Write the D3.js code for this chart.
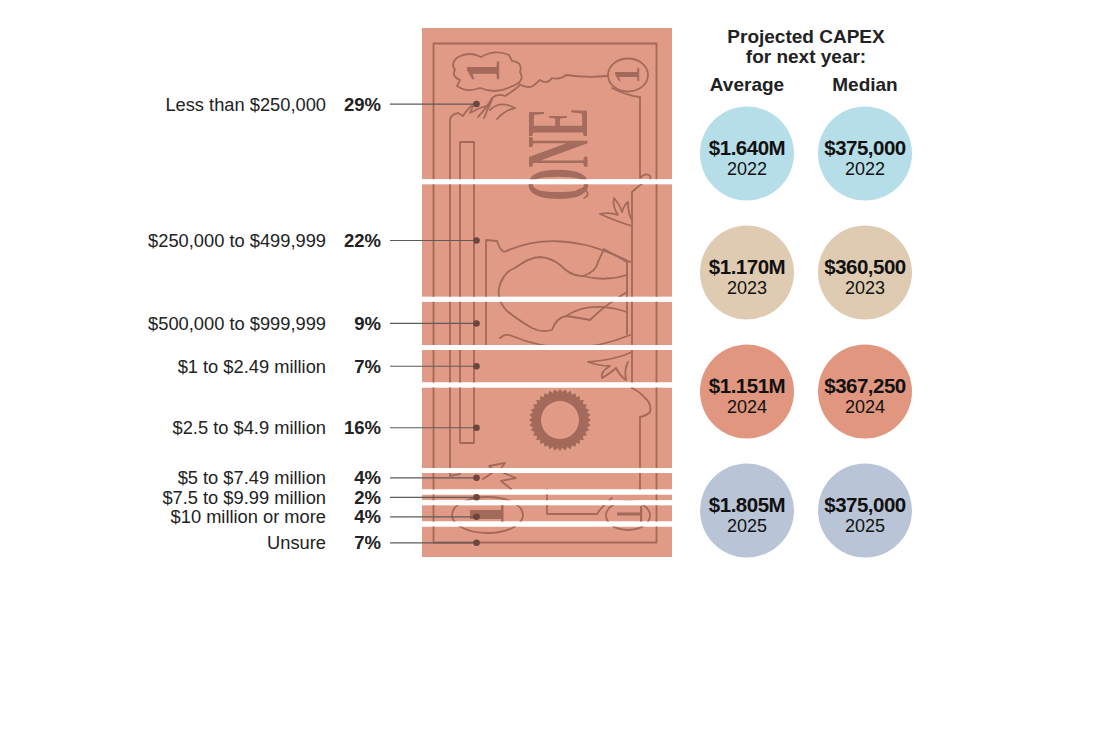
<!DOCTYPE html>
<html>
<head>
<meta charset="utf-8">
<script src="https://cdn.jsdelivr.net/npm/d3@7/dist/d3.min.js"></script>
<style>
  html, body { margin: 0; padding: 0; background: #ffffff; }
  svg { display: block; font-family: "Liberation Sans", Arial, Helvetica, sans-serif; }
</style>
</head>
<body>
<svg id="chart" width="1100" height="733"></svg>
<script>
// ---------------- DATA ----------------
const categories = [
  "Less than $250,000",
  "$250,000 to $499,999",
  "$500,000 to $999,999",
  "$1 to $2.49 million",
  "$2.5 to $4.9 million",
  "$5 to $7.49 million",
  "$7.5 to $9.99 million",
  "$10 million or more",
  "Unsure"
];
const shares = [29, 22, 9, 7, 16, 4, 2, 4, 7];           // percent of respondents

const years = ["2022", "2023", "2024", "2025"];
const measures = ["Average", "Median"];
const averageCapex = [1.640, 1.170, 1.151, 1.805];          // $ millions
const medianCapex = [375000, 360500, 367250, 375000];        // $
const titleLines = ["Projected CAPEX", "for next year:"];

// ---------------- STYLE / LAYOUT ----------------
const yearColors = ["#b6dee9", "#dfcbb2", "#e0967f", "#b9c4d7"];
const billFill = "#e09a86";
const ink = "#a3695a";
const textColor = "#222222";
const bill = { x0: 422, x1: 672, y0: 28, y1: 557 };
const gap = 5;

const svg = d3.select("#chart");

// scale: percent (cumulative) -> vertical position on the bill
const y = d3.scaleLinear().domain([0, 100]).range([26.5, 561.5]);

const cum = Array.from(d3.cumsum(shares));
const segs = shares.map((s, i) => ({
  cat: categories[i], share: s, start: cum[i] - s, end: cum[i], i
}));

// ---------------- BILL SEGMENTS (clip) ----------------
const defs = svg.append("defs");
const clip = defs.append("clipPath").attr("id", "billClip");
const segTop = d => d.i === 0 ? bill.y0 : Math.max(bill.y0, y(d.start) + gap / 2);
const segBot = d => d.i === segs.length - 1 ? bill.y1 : Math.min(bill.y1, y(d.end) - gap / 2);
clip.selectAll("rect").data(segs).join("rect")
  .attr("x", bill.x0).attr("width", bill.x1 - bill.x0)
  .attr("y", segTop).attr("height", d => segBot(d) - segTop(d));

const billG = svg.append("g").attr("clip-path", "url(#billClip)");
billG.selectAll("rect.seg").data(segs).join("rect").attr("class", "seg")
  .attr("x", bill.x0).attr("width", bill.x1 - bill.x0)
  .attr("y", segTop).attr("height", d => segBot(d) - segTop(d))
  .attr("fill", billFill);

// ---------------- BILL ILLUSTRATION (decorative) ----------------
const deco = billG.append("g").attr("fill", "none").attr("stroke", ink)
  .attr("stroke-width", 1.8).attr("stroke-linejoin", "round").attr("stroke-linecap", "round");

// outer frame
deco.append("rect").attr("x", 433.5).attr("y", 43.5).attr("width", 223).attr("height", 499);
// inner left line with curl
deco.append("path").attr("d", "M450,476 L460,474 M450,476 V120 Q451,114 458,113 L463,116 Q468,108 474,104 L470,113 Q478,108 486,106");
// narrow rectangle
deco.append("rect").attr("x", 460).attr("y", 142).attr("width", 14).attr("height", 301);
// right inner line with curls
deco.append("path").attr("d",
  "M612,88 Q628,96 640,97 V178 Q646,172 650,176 Q652,183 645,182 Q638,186 632,192 V388 Q640,392 645,398 Q652,404 650,412 Q646,416 640,417 V490");
// shield top-left
deco.append("path").attr("d",
  "M458,57 Q470,51 481,57 Q495,49 509,55 L512,61 Q523,62 520,72 Q525,80 515,85 L508,88 Q495,94 480,88 Q467,93 457,86 L460,80 Q451,76 455,70 Q450,63 458,57 Z");
// wavy line from shield to top-right oval and leaf
deco.append("path").attr("d",
  "M519,84 Q527,89 533,86 L540,80 Q547,85 552,78 Q560,80 566,75 Q585,78 607,76");
deco.append("path").attr("d",
  "M519,86 Q512,92 505,96 Q498,93 492,98 Q488,106 478,117 M490,110 Q500,100 515,108 Q505,110 497,119 M492,100 Q487,110 484,118");
// top-right oval
deco.append("ellipse").attr("cx", 628).attr("cy", 75).attr("rx", 20).attr("ry", 16.5);
// portrait frame
deco.append("path").attr("d",
  "M486,345 V240 L497,241 Q500,250 504,252 Q560,226 630,262");
deco.append("path").attr("d",
  "M500,338 Q505,333 512,336 Q570,360 630,335");
deco.append("path").attr("d", "M627,262 V334");
// portrait head (open outline)
deco.append("path").attr("d",
  "M627,262 L604,249 L598,262 Q596,272 583,276 Q572,277 560,265 Q552,258 540,257 Q530,257 515,268 Q503,272 499,288 Q497,300 506,310 Q515,318 532,328 Q542,333 552,330 Q556,318 566,316 Q580,318 590,320 Q605,305 627,292");
deco.append("path").attr("d", "M583,276 Q605,282 627,275");
deco.append("path").attr("d", "M566,316 Q590,300 627,312");
// leaves right side
deco.append("path").attr("d",
  "M632,226 Q618,222 600,214 Q610,212 618,215 Q612,206 614,198 Q620,205 622,212 Q624,205 628,202 Q628,214 632,220");
deco.append("path").attr("d",
  "M632,352 Q615,360 588,362 Q600,366 610,366 Q600,372 602,378 Q612,372 616,368 Q620,376 626,380 Q624,370 628,362");
// small curl near ONE
deco.append("path").attr("d", "M572,196 Q580,186 586,190 Q590,196 584,198");
// seal (gear ring)
const teeth = 36, rOut = 31, rIn = 28;
const gearPts = d3.range(teeth * 2).map(k => {
  const a = k / (teeth * 2) * 2 * Math.PI;
  const r = k % 2 === 0 ? rOut : rIn;
  return [560 + r * Math.cos(a), 420 + r * Math.sin(a)];
});
const hole = d3.path(); hole.moveTo(560 + 19, 420); hole.arc(560, 420, 19, 0, 2 * Math.PI);
billG.append("path")
  .attr("d", "M" + gearPts.join("L") + "Z" + hole.toString())
  .attr("fill", ink).attr("fill-rule", "evenodd");
// bottom-left leaf
deco.append("path").attr("d",
  "M483,479 L495,471 L489,466 L505,463 L499,471 L516,478 L501,481 L511,489");
// bottom ovals
deco.append("ellipse").attr("cx", 487.5).attr("cy", 515).attr("rx", 35.5).attr("ry", 18);
deco.append("ellipse").attr("cx", 628).attr("cy", 515.5).attr("rx", 22).attr("ry", 14.5);
deco.append("path").attr("d", "M547,490 V514 H597 Q603,505 612,498");
billG.append("rect").attr("x", 470).attr("y", 510).attr("width", 33).attr("height", 9).attr("fill", ink);
billG.append("rect").attr("x", 501).attr("y", 503).attr("width", 2.5).attr("height", 22).attr("fill", ink);
billG.append("rect").attr("x", 617).attr("y", 512.5).attr("width", 24).attr("height", 3).attr("fill", ink);
billG.append("rect").attr("x", 640).attr("y", 506).attr("width", 2.2).attr("height", 16).attr("fill", ink);

// "1" symbols and "ONE"
const serif = "'Liberation Serif', 'DejaVu Serif', serif";
billG.append("text").text("1")
  .attr("transform", "translate(499,71) rotate(-90)")
  .attr("text-anchor", "middle").attr("font-family", serif).attr("font-weight", "bold")
  .attr("font-size", 48).attr("fill", ink);
billG.append("text").text("1")
  .attr("transform", "translate(639,75) rotate(-90)")
  .attr("text-anchor", "middle").attr("font-family", serif).attr("font-weight", "bold")
  .attr("font-size", 36).attr("fill", ink);
billG.append("text").text("ONE")
  .attr("transform", "translate(587,201) rotate(-90)")
  .attr("text-anchor", "start").attr("font-family", serif).attr("font-weight", "bold")
  .attr("font-size", 88).attr("textLength", 93).attr("lengthAdjust", "spacingAndGlyphs")
  .attr("fill", "#a56c5e");

// ---------------- LABELS, LEADERS, DOTS ----------------
const centers = segs.map(d => y((d.start + d.end) / 2));
const pos = centers.slice();
const minGap = 19.5;
for (let it = 0; it < 300; it++) {
  for (let i = 1; i < pos.length; i++) {
    const d = pos[i] - pos[i - 1];
    if (d < minGap) { const s = (minGap - d) / 2; pos[i - 1] -= s; pos[i] += s; }
  }
}
segs.forEach((d, i) => d.ly = pos[i]);

const labelX = 326, pctX = 381, lineX0 = 390, dotX = 476.5;
const lab = svg.append("g");
lab.selectAll("line").data(segs).join("line")
  .attr("x1", lineX0).attr("x2", dotX).attr("y1", d => d.ly).attr("y2", d => d.ly)
  .attr("stroke", "#5f5a58").attr("stroke-width", 1.2);
lab.selectAll("circle").data(segs).join("circle")
  .attr("cx", dotX).attr("cy", d => d.ly).attr("r", 3.3).attr("fill", "#6a463c");
lab.selectAll("text.cat").data(segs).join("text").attr("class", "cat")
  .attr("x", labelX).attr("y", d => d.ly).attr("dy", "0.36em")
  .attr("text-anchor", "end").attr("font-size", 18.3).attr("fill", textColor)
  .text(d => d.cat);
lab.selectAll("text.pct").data(segs).join("text").attr("class", "pct")
  .attr("x", pctX).attr("y", d => d.ly).attr("dy", "0.36em")
  .attr("text-anchor", "end").attr("font-size", 18.5).attr("font-weight", "bold").attr("fill", textColor)
  .text(d => d.share + "%");

// ---------------- CAPEX CIRCLES ----------------
const xM = d3.scalePoint().domain(measures).range([747, 865]);
const yY = d3.scalePoint().domain(years).range([153.5, 510.5]);
const fmtAvg = v => "$" + d3.format(".3f")(v) + "M";
const fmtMed = d3.format("$,");
const cells = [];
years.forEach((yr, i) => {
  cells.push({ m: "Average", yr, i, label: fmtAvg(averageCapex[i]) });
  cells.push({ m: "Median", yr, i, label: fmtMed(medianCapex[i]) });
});
const cg = svg.append("g");
const cell = cg.selectAll("g").data(cells).join("g")
  .attr("transform", d => `translate(${xM(d.m)},${yY(d.yr)})`);
cell.append("circle").attr("r", 47).attr("fill", (d) => yearColors[d.i]);
cell.append("text").attr("y", 1.5).attr("text-anchor", "middle")
  .attr("font-size", 20.5).attr("font-weight", "bold").attr("letter-spacing", "-0.5")
  .attr("fill", "#111").text(d => d.label);
cell.append("text").attr("y", 21.5).attr("text-anchor", "middle")
  .attr("font-size", 18).attr("fill", "#111").text(d => d.yr);

// titles
const tg = svg.append("g").attr("fill", textColor).attr("font-weight", "bold").attr("font-size", 19);
tg.selectAll("text.t").data(titleLines).join("text").attr("class", "t")
  .attr("x", (xM("Average") + xM("Median")) / 2).attr("y", (d, i) => 42.5 + i * 20)
  .attr("text-anchor", "middle").text(d => d);
tg.selectAll("text.h").data(measures).join("text").attr("class", "h")
  .attr("x", d => xM(d)).attr("y", 90.5).attr("text-anchor", "middle").text(d => d);
</script>
</body>
</html>
